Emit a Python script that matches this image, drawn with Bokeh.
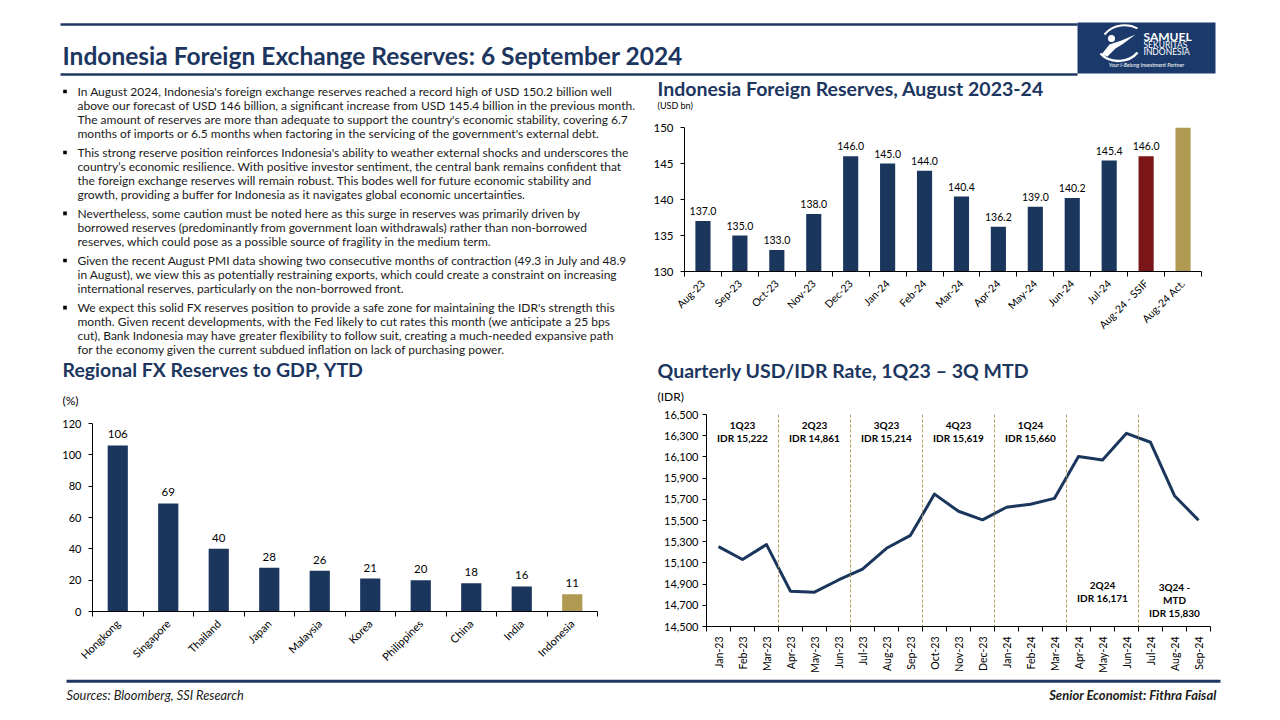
from math import pi
from bokeh.plotting import figure
from bokeh.models import Range1d, FixedTicker, NumeralTickFormatter, Span
from bokeh.layouts import column, row
from bokeh.embed import file_html
from bokeh.resources import INLINE
from bokeh.core.properties import value

# ---------------- data ----------------
reserve_months = ["Aug-23", "Sep-23", "Oct-23", "Nov-23", "Dec-23", "Jan-24", "Feb-24",
                  "Mar-24", "Apr-24", "May-24", "Jun-24", "Jul-24", "Aug-24 - SSIF", "Aug-24 Act."]
reserve_values = [137.0, 135.0, 133.0, 138.0, 146.0, 145.0, 144.0, 140.4, 136.2, 139.0,
                  140.2, 145.4, 146.0, 150.2]
reserve_kind = ["hist"] * 12 + ["forecast", "actual"]

regional_countries = ["Hongkong", "Singapore", "Thailand", "Japan", "Malaysia", "Korea",
                      "Philippines", "China", "India", "Indonesia"]
regional_values = [106, 69, 40, 28, 26, 21, 20, 18, 16, 11]

idr_months = ["Jan-23", "Feb-23", "Mar-23", "Apr-23", "May-23", "Jun-23", "Jul-23", "Aug-23",
              "Sep-23", "Oct-23", "Nov-23", "Dec-23", "Jan-24", "Feb-24", "Mar-24", "Apr-24",
              "May-24", "Jun-24", "Jul-24", "Aug-24", "Sep-24"]
idr_rates = [15254, 15132, 15273, 14833, 14824, 14939, 15042, 15238, 15360, 15749, 15587,
             15506, 15625, 15653, 15709, 16104, 16070, 16322, 16238, 15734, 15503]
quarter_names = ["1Q23", "2Q23", "3Q23", "4Q23", "1Q24", "2Q24", "3Q24 -|MTD"]
quarter_avgs = ["IDR 15,222", "IDR 14,861", "IDR 15,214", "IDR 15,619", "IDR 15,660",
                "IDR 16,171", "IDR 15,830"]

paragraphs = [
    ["In August 2024, Indonesia's foreign exchange reserves reached a record high of USD 150.2 billion well",
     "above our forecast of USD 146 billion, a significant increase from USD 145.4 billion in the previous month.",
     "The amount of reserves are more than adequate to support the country's economic stability, covering 6.7",
     "months of imports or 6.5 months when factoring in the servicing of the government's external debt."],
    ["This strong reserve position reinforces Indonesia's ability to weather external shocks and underscores the",
     "country\u2019s economic resilience. With positive investor sentiment, the central bank remains confident that",
     "the foreign exchange reserves will remain robust. This bodes well for future economic stability and",
     "growth, providing a buffer for Indonesia as it navigates global economic uncertainties."],
    ["Nevertheless, some caution must be noted here as this surge in reserves was primarily driven by",
     "borrowed reserves (predominantly from government loan withdrawals) rather than non-borrowed",
     "reserves, which could pose as a possible source of fragility in the medium term."],
    ["Given the recent August PMI data showing two consecutive months of contraction (49.3 in July and 48.9",
     "in August), we view this as potentially restraining exports, which could create a constraint on increasing",
     "international reserves, particularly on the non-borrowed front."],
    ["We expect this solid FX reserves position to provide a safe zone for maintaining the IDR's strength this",
     "month. Given recent developments, with the Fed likely to cut rates this month (we anticipate a 25 bps",
     "cut), Bank Indonesia may have greater flexibility to follow suit, creating a much-needed expansive path",
     "for the economy given the current subdued inflation on lack of purchasing power."],
]

# ---------------- styles ----------------
NAVY = "#1B365D"
TITLE_C = "#1C3660"
RED = "#7A1518"
GOLD = "#B09A52"
TXT = "#1a1a1a"
FONT = value("Lato")
kind_color = {"hist": NAVY, "forecast": RED, "actual": GOLD}
W, H = 1276, 716


def canvas(x0, x1, y0, y1):
    f = figure(width=x1 - x0, height=y1 - y0, x_range=Range1d(x0, x1), y_range=Range1d(y1, y0),
               output_backend="svg", toolbar_location=None, min_border=0,
               x_axis_location=None, y_axis_location=None)
    f.grid.visible = False
    f.outline_line_color = None
    return f


def style_axes(p, size="10px"):
    for ax in (p.xaxis[0], p.yaxis[0]):
        ax.axis_line_color = "black"
        ax.major_tick_line_color = "black"
        ax.major_label_text_font = "Lato"
        ax.major_label_text_font_size = size
        ax.major_label_text_color = "black"
        ax.minor_tick_line_color = None
    p.grid.visible = False
    p.outline_line_color = None


def cat_xaxis(p, labels, orientation):
    n = len(labels)
    ax = p.xaxis[0]
    ax.ticker = FixedTicker(ticks=list(range(n)), minor_ticks=[i - 0.5 for i in range(n + 1)])
    ax.major_label_overrides = {i: lab for i, lab in enumerate(labels)}
    ax.major_tick_line_color = None
    ax.minor_tick_line_color = "black"
    ax.minor_tick_in = 0
    ax.minor_tick_out = 5
    ax.major_label_orientation = orientation
    ax.major_label_standoff = 4


def title_text(f, x, y, s):
    f.text(x=[x], y=[y], text=[s], text_font=FONT, text_font_style="bold", text_font_size="19.5px",
           text_color=TITLE_C, text_baseline="middle")


# ---------------- header ----------------
hdr = canvas(0, W, 0, 78)
hdr.segment(x0=[60, 60], y0=[24, 74], x1=[1077, 1077], y1=[24, 74], line_width=2.5, line_color="#1F3864")
hdr.text(x=[62], y=[55], text=["Indonesia Foreign Exchange Reserves: 6 September 2024"],
         text_font=FONT, text_font_style="bold", text_font_size="24.5px", text_color=TITLE_C,
         text_baseline="alphabetic")
hdr.quad(left=[1077], right=[1215], top=[22], bottom=[73], fill_color="#1B3A6B", line_color=None)
# logo mark (stylised archer)
hdr.bezier(x0=[1104], y0=[34], x1=[1137], y1=[28], cx0=[1113], cy0=[23], cx1=[1128], cy1=[23],
           line_color="white", line_width=2)
hdr.bezier(x0=[1100], y0=[53], x1=[1137], y1=[52], cx0=[1110], cy0=[64], cx1=[1129], cy1=[62],
           line_color="white", line_width=2.5)
hdr.scatter(x=[1111], y=[38], size=7, marker="circle", fill_color="white", line_color=None)
hdr.patch(x=[1101, 1109, 1121, 1135, 1123, 1115, 1107], y=[54, 44, 40, 34, 43, 48, 56],
          fill_color="white", line_color=None)
hdr.text(x=[1143], y=[35.5], text=["SAMUEL"], text_font=FONT, text_font_style="bold",
         text_font_size="12px", text_color="white", text_baseline="middle")
hdr.text(x=[1143, 1143], y=[44, 51.5], text=["SEKURITAS", "INDONESIA"], text_font=FONT,
         text_font_size="8.5px", text_color="white", text_baseline="middle")
hdr.text(x=[1146], y=[64.5], text=["Your I-Belong Investment Partner"], text_font=FONT,
         text_font_style="italic", text_font_size="5.5px", text_color="white",
         text_baseline="middle", text_align="center")

# ---------------- left text block ----------------
txt = canvas(0, 648, 78, 410)
line_h = 13.85
para_gap = 19.4
bx, by, tx, tys, tl = [], [], [], [], []
y = 91.0
for para in paragraphs:
    bx.append(64.5)
    by.append(y)
    for k, line in enumerate(para):
        tx.append(77)
        tys.append(y)
        tl.append(line)
        y += line_h if k < len(para) - 1 else para_gap
txt.rect(x=bx, y=by, width=3.6, height=3.6, fill_color="black", line_color=None)
txt.text(x=tx, y=tys, text=tl, text_font=FONT, text_font_size="12px", text_color=TXT,
         text_baseline="middle")
title_text(txt, 62, 369, "Regional FX Reserves to GDP, YTD")
txt.text(x=[62], y=[400], text=["(%)"], text_font=FONT, text_font_size="12px", text_color="black",
         text_baseline="middle")

# ---------------- regional chart ----------------
nr = len(regional_countries)
rx = list(range(nr))
rcolors = [GOLD if c == "Indonesia" else NAVY for c in regional_countries]
p2 = figure(width=648, height=265, x_range=Range1d(-0.5, nr - 0.5), y_range=Range1d(0, 120),
            output_backend="svg", toolbar_location=None,
            min_border_left=92, min_border_right=51, min_border_top=13, min_border_bottom=64)
p2.vbar(x=rx, top=regional_values, width=0.4, fill_color=rcolors, line_color=None)
p2.text(x=rx, y=regional_values, text=[str(v) for v in regional_values], y_offset=-7,
        text_font=FONT, text_font_size="11.5px", text_color="black", text_align="center",
        text_baseline="bottom")
style_axes(p2, "11px")
cat_xaxis(p2, regional_countries, pi / 4)
p2.yaxis[0].ticker = FixedTicker(ticks=[0, 20, 40, 60, 80, 100, 120])
p2.yaxis[0].major_tick_out = 4
p2.yaxis[0].major_tick_in = 0
p2.yaxis[0].major_label_standoff = 7

# ---------------- right: reserves ----------------
rt1 = canvas(648, W, 78, 120)
title_text(rt1, 657, 88, "Indonesia Foreign Reserves, August 2023-24")
rt1.text(x=[657], y=[105], text=["(USD bn)"], text_font=FONT, text_font_size="9px",
         text_color="black", text_baseline="middle")

n1 = len(reserve_months)
x1 = list(range(n1))
p1 = figure(width=W - 648, height=238, x_range=Range1d(-0.5, n1 - 0.5), y_range=Range1d(130, 150),
            output_backend="svg", toolbar_location=None,
            min_border_left=36, min_border_right=W - 1201, min_border_top=7, min_border_bottom=87)
p1.vbar(x=x1, top=reserve_values, bottom=130, width=0.41,
        fill_color=[kind_color[k] for k in reserve_kind], line_color=None)
lab_idx = [i for i, k in enumerate(reserve_kind) if k != "actual"]
p1.text(x=[x1[i] for i in lab_idx], y=[reserve_values[i] for i in lab_idx],
        text=[f"{reserve_values[i]:.1f}" for i in lab_idx], y_offset=-6,
        text_font=FONT, text_font_size="10.5px", text_color="black", text_align="center",
        text_baseline="bottom")
style_axes(p1, "10.5px")
cat_xaxis(p1, reserve_months, pi / 4)
p1.yaxis[0].ticker = FixedTicker(ticks=[130, 135, 140, 145, 150])
p1.yaxis[0].major_label_text_font_size = "11.5px"
p1.yaxis[0].major_tick_out = 4
p1.yaxis[0].major_tick_in = 0
p1.yaxis[0].major_label_standoff = 7

# ---------------- right: USD/IDR ----------------
rt2 = canvas(648, W, 358, 408)
title_text(rt2, 657, 370, "Quarterly USD/IDR Rate,  1Q23 \u2013 3Q MTD")
rt2.text(x=[657], y=[396], text=["(IDR)"], text_font=FONT, text_font_size="12px",
         text_color="black", text_baseline="middle")

n3 = len(idr_months)
x3 = list(range(n3))
p3 = figure(width=W - 648, height=267, x_range=Range1d(-0.5, n3 - 0.5), y_range=Range1d(14500, 16500),
            output_backend="svg", toolbar_location=None,
            min_border_left=58, min_border_right=W - 1210, min_border_top=6, min_border_bottom=47)
for q in range(1, len(quarter_names)):
    p3.add_layout(Span(location=3 * q - 0.5, dimension="height", line_color="#B39B5E",
                       line_dash="3 2", line_width=1))
p3.line(x=x3, y=idr_rates, line_color=NAVY, line_width=3, line_join="round")
qx, qy, qt = [], [], []
for q, (name, avg) in enumerate(zip(quarter_names, quarter_avgs)):
    lines = name.split("|") + [avg]
    low = q >= 5
    top = 14893 if (low and len(lines) == 2) else (14874 if low else 16397)
    for k, s in enumerate(lines):
        qx.append(3 * q + 1)
        qy.append(top - k * 122)
        qt.append(s)
p3.text(x=qx, y=qy, text=qt, text_font=FONT, text_font_style="bold", text_font_size="10px",
        text_color="black", text_align="center", text_baseline="middle")
style_axes(p3, "10.5px")
cat_xaxis(p3, idr_months, pi / 2)
p3.yaxis[0].ticker = FixedTicker(ticks=list(range(14500, 16501, 200)))
p3.yaxis[0].formatter = NumeralTickFormatter(format="0,0")
p3.yaxis[0].major_label_text_font_size = "11px"
p3.yaxis[0].major_tick_out = 4
p3.yaxis[0].major_tick_in = 0
p3.yaxis[0].major_label_standoff = 4

# ---------------- footer ----------------
ftr = canvas(0, W, 675, H)
ftr.segment(x0=[66], y0=[680.7], x1=[1220], y1=[680.7], line_width=3, line_color="#1F3864")
ftr.text(x=[66], y=[694], text=["Sources: Bloomberg, SSI Research"], text_font=FONT,
         text_font_style="italic", text_font_size="12.8px", text_color=TXT, text_baseline="middle")
ftr.text(x=[1216], y=[694], text=["Senior Economist: Fithra Faisal"], text_font=FONT,
         text_font_style="bold italic", text_font_size="13px", text_color=TXT,
         text_baseline="middle", text_align="right")

left = column(row(txt), row(p2))
right = column(row(rt1), row(p1), row(rt2), row(p3))
layout = column(row(hdr), row(left, right), row(ftr))
open("out.html", "w").write(file_html(layout, INLINE))
